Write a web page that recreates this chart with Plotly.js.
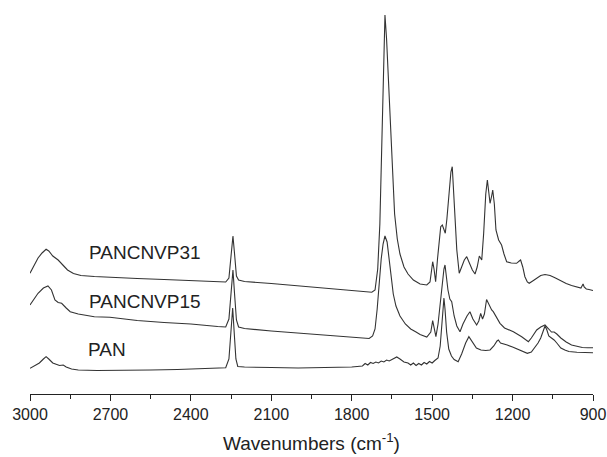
<!DOCTYPE html>
<html>
<head>
<meta charset="utf-8">
<script src="https://cdn.plot.ly/plotly-3.0.1.min.js"></script>
<style>html,body{margin:0;padding:0;background:#fff;}#chart{width:607px;height:457px;}</style>
</head>
<body>
<div id="chart"></div>
<script>
// Wavenumbers (cm-1) and absorbance (arbitrary units)
const wnP31 = [3000,2985,2970,2955,2940,2930,2915,2895,2876,2860,2838,2810,2760,2700,2600,2500,2400,2300,2270,2258,2250,2243,2237,2230,2222,2200,2100,2000,1900,1800,1760,1725,1713,1703,1695,1688,1681,1676,1670,1664,1656,1648,1640,1630,1620,1605,1590,1570,1545,1520,1508,1503,1498,1493,1487,1480,1472,1468,1462,1451,1445,1438,1430,1425,1419,1413,1408,1399,1390,1380,1371,1362,1350,1340,1332,1324,1315,1308,1300,1294,1288,1284,1278,1274,1268,1262,1252,1241,1232,1222,1205,1185,1175,1170,1162,1154,1145,1138,1125,1110,1095,1079,1060,1040,1020,1000,980,960,945,940,937,933,925,915,900];
const absP31 = [120.7,128,136,141,144.7,143,138,134,129,124,120.5,118.5,117.5,117,115.5,114.5,113.5,112.5,112,116,136,158,140,118,114,112.5,110.5,108,106,103.5,102,101.7,104,125,170,260,340,379,355,320,260,215,180,155,140,127,120,114,110,109,112,122,132.3,125,112.3,135,160,167.3,169,160.7,175,200,222,227.3,200,165,144,120.7,127,134,137.3,132,124,120,127,138,134,160,200,214,200,190.7,198,204,190,164,154,149,140,132.3,131,130.7,133,134,127,117.3,112,110.7,113,116,118.5,119.5,118.5,116,113,110.5,108.5,107,106,108.5,110,107,105,104.5,103.5];

const wnP15 = [3000,2985,2970,2950,2933,2920,2907,2895,2882,2865,2850,2820,2760,2702,2600,2500,2400,2300,2270,2258,2250,2243,2237,2230,2222,2200,2100,2000,1900,1800,1760,1735,1722,1713,1705,1698,1690,1683,1676,1668,1660,1652,1645,1635,1620,1600,1580,1560,1545,1520,1505,1498,1492,1486,1478,1470,1462,1456,1452,1447,1441,1434,1427,1418,1408,1396,1385,1370,1359,1348,1334,1326,1319,1312,1305,1297,1290,1284,1278,1272,1260,1247,1230,1197,1166,1150,1141,1130,1110,1095,1079,1065,1055,1045,1035,1020,1000,980,960,940,920,900];
const absP15 = [89,95,100.7,106,108,104,94,91.5,90.7,86,82.3,80,77.3,76.7,73.5,71.5,70,67.5,67,75,100,124,100,74,67,65.5,63,61,59,57,55.7,55.5,58,65,85,110,135,150,158,152,135,115,100,88,78,70,65,62,59.5,57,62,73.3,65,57.3,70,90,112,125,129,115,104,95,92.3,78,68,62.3,70,78,82.3,75,69,73,80.7,75,80,94.5,90,86,84,82.3,76,70.7,66,62.3,57.3,53.5,52.3,56,64,67,69,65,62,62,60,56,52,49,47.5,46.5,46.3,46.3];

const wnPAN = [3000,2985,2965,2950,2940,2930,2915,2900,2890,2876,2865,2845,2820,2750,2650,2550,2450,2350,2270,2258,2250,2244,2238,2232,2225,2200,2100,2000,1900,1800,1760,1750,1740,1730,1720,1710,1700,1690,1680,1670,1660,1645,1632,1620,1605,1590,1580,1570,1560,1550,1540,1530,1520,1510,1500,1490,1478,1470,1464,1459,1456,1452,1446,1438,1428,1418,1403,1390,1375,1363,1355,1345,1335,1318,1300,1284,1270,1258,1253,1245,1235,1220,1200,1180,1160,1145,1130,1118,1105,1095,1088,1079,1072,1065,1055,1045,1035,1020,1005,990,960,930,900];
const absPAN = [25.7,28,31,35,37.3,35,31,29.5,28.5,29,27,25,24,23.5,23.5,24,24.5,25.5,26.3,35,60,86,60,35,27.5,27,26.5,26,26.5,27,28,30.5,29,31.5,30.5,32,31,33,32,34,33,35,37,35,32,31,29,31,28.5,30.5,29,31.5,30,32.5,31,33.5,36,48,70,90,96,85,62,45,38,34.5,32.3,40,51,57.3,54,49,46,44,43.5,44,48,53,54,51,50.5,49,47,45,42.5,40.7,42,46,51,56,61,68,64,58,56,54,51,46,44,42.5,41.7,41.5,41.3];

const seriesNames = ["PANCNVP31","PANCNVP15","PAN"];
const labelWn = [2787, 2787, 2790];
const labelAbs = [141.3, 92.3, 45];
const tickVals = [3000,2700,2400,2100,1800,1500,1200,900];

const lineStyle = {color:'#333333', width:1.1};
const traces = [
  {x: wnP31, y: absP31, name: seriesNames[0], mode:'lines', line: lineStyle},
  {x: wnP15, y: absP15, name: seriesNames[1], mode:'lines', line: lineStyle},
  {x: wnPAN, y: absPAN, name: seriesNames[2], mode:'lines', line: lineStyle}
];

const annotations = seriesNames.map((n,i)=>({
  x: labelWn[i], y: labelAbs[i], xref:'x', yref:'y', text: n, showarrow:false,
  xanchor:'left', yanchor:'middle', font:{family:'Liberation Sans, Arial, sans-serif', size:19, color:'#222'}
}));

const layout = {
  width:607, height:457,
  margin:{l:30, r:14, t:10, b:63},
  paper_bgcolor:'#fff', plot_bgcolor:'#fff',
  showlegend:false,
  font:{family:'Liberation Sans, Arial, sans-serif', color:'#222'},
  xaxis:{
    range:[3000,900], tickvals: tickVals, ticktext: tickVals.map(String),
    showline:true, linecolor:'#222', linewidth:1, mirror:false,
    ticks:'outside', ticklen:6, tickwidth:1, tickcolor:'#222',
    minor:{dtick:150, tick0:900, ticks:'outside', ticklen:4, tickwidth:1, tickcolor:'#222', showgrid:false},
    showgrid:false, zeroline:false,
    tickfont:{size:16, color:'#222'},
    title:{text:'Wavenumbers (cm<sup>-1</sup>)', font:{size:19, color:'#222'}, standoff:14}
  },
  yaxis:{range:[0,384], visible:false, showgrid:false, zeroline:false},
  annotations: annotations
};

Plotly.newPlot('chart', traces, layout, {staticPlot:true, displayModeBar:false});
</script>
</body>
</html>
